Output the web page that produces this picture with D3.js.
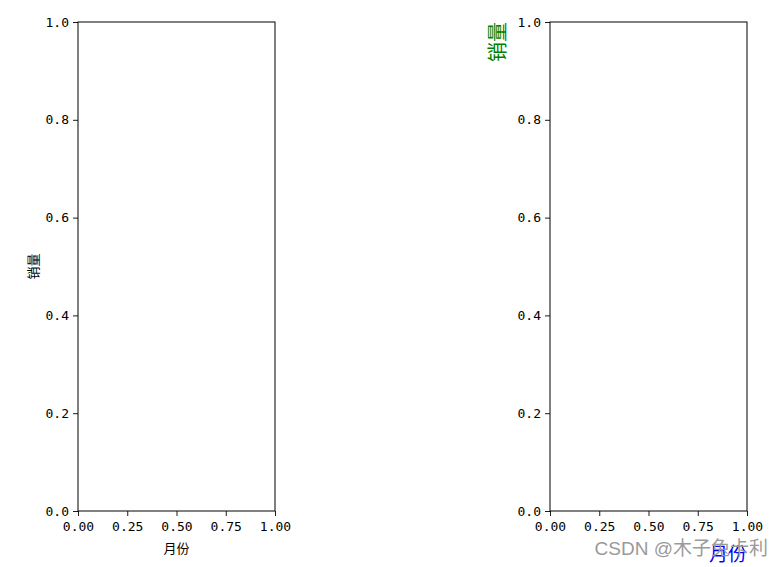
<!DOCTYPE html>
<html>
<head>
<meta charset="utf-8">
<script src="https://cdn.jsdelivr.net/npm/d3@7"></script>
<style>
    body { margin: 0; background: #fff; }
    svg text { font-family: "DejaVu Sans Mono", monospace; }
    .cjk { font-family: "Noto Sans CJK SC", sans-serif; }
</style>
</head>
<body>
<div id="chart"></div>
<script>
// Axis domains and tick values (both subplots are empty, default 0..1)
const xDomain = [0, 1];
const yDomain = [0, 1];
const xTicks = [0, 0.25, 0.5, 0.75, 1];
const yTicks = [0, 0.2, 0.4, 0.6, 0.8, 1];
const xLabel = '月份';
const yLabel = '销量';
const watermark = 'CSDN @木子兔卡利';

const width = 782;
const height = 567;

const svg = d3.select('#chart')
    .append('svg')
    .attr('width', width)
    .attr('height', height);

// Panels: left = default labels, right = coloured labels
const panels = [
    {left: 78, right: 275, top: 22, bottom: 511, styled: false},
    {left: 550, right: 747, top: 22, bottom: 511, styled: true}
];

panels.forEach(p => {
    const x = d3.scaleLinear().domain(xDomain).range([p.left, p.right]);
    const y = d3.scaleLinear().domain(yDomain).range([p.bottom, p.top]);
    const g = svg.append('g');

    // x axis
    const xa = g.append('g')
        .attr('transform', `translate(0,${p.bottom})`)
        .call(d3.axisBottom(x).tickValues(xTicks).tickFormat(d3.format('.2f')).tickSizeOuter(0).tickSize(5).tickPadding(6));
    // y axis
    const ya = g.append('g')
        .attr('transform', `translate(${p.left},0)`)
        .call(d3.axisLeft(y).tickValues(yTicks).tickFormat(d3.format('.1f')).tickSizeOuter(0).tickSize(5).tickPadding(4));

    [xa, ya].forEach(a => {
        a.select('.domain').remove();
        a.selectAll('line').attr('stroke', '#000').attr('stroke-width', 0.9);
        a.selectAll('text').attr('font-size', 13).attr('fill', '#000')
            .style('font-family', '"DejaVu Sans Mono", monospace');
    });

    // frame
    g.append('rect')
        .attr('x', p.left)
        .attr('y', p.top)
        .attr('width', p.right - p.left)
        .attr('height', p.bottom - p.top)
        .attr('fill', 'none')
        .attr('stroke', '#000')
        .attr('stroke-width', 1);

    if (!p.styled) {
        g.append('text')
            .attr('class', 'cjk')
            .attr('x', (p.left + p.right) / 2)
            .attr('y', 553)
            .attr('text-anchor', 'middle')
            .attr('font-size', 13)
            .text(xLabel);
        g.append('text')
            .attr('class', 'cjk')
            .attr('transform', `translate(38,${(p.top + p.bottom) / 2}) rotate(-90)`)
            .attr('text-anchor', 'middle')
            .attr('font-size', 13)
            .text(yLabel);
    } else {
        // watermark sits under the blue label, as in the source image
        svg.append('text')
            .attr('x', 768)
            .attr('y', 555)
            .attr('text-anchor', 'end')
            .attr('font-size', 19)
            .attr('fill', '#9a9a9a')
            .style('font-family', '"Liberation Sans", "Noto Sans CJK SC", sans-serif')
            .text(watermark);
        g.append('text')
            .attr('class', 'cjk')
            .attr('x', p.right)
            .attr('y', 561)
            .attr('text-anchor', 'end')
            .attr('font-size', 19)
            .attr('fill', 'blue')
            .text(xLabel);
        g.append('text')
            .attr('class', 'cjk')
            .attr('transform', `translate(505,${p.top}) rotate(-90)`)
            .attr('text-anchor', 'end')
            .attr('font-size', 20)
            .attr('fill', 'green')
            .text(yLabel);
    }
});
</script>
</body>
</html>
